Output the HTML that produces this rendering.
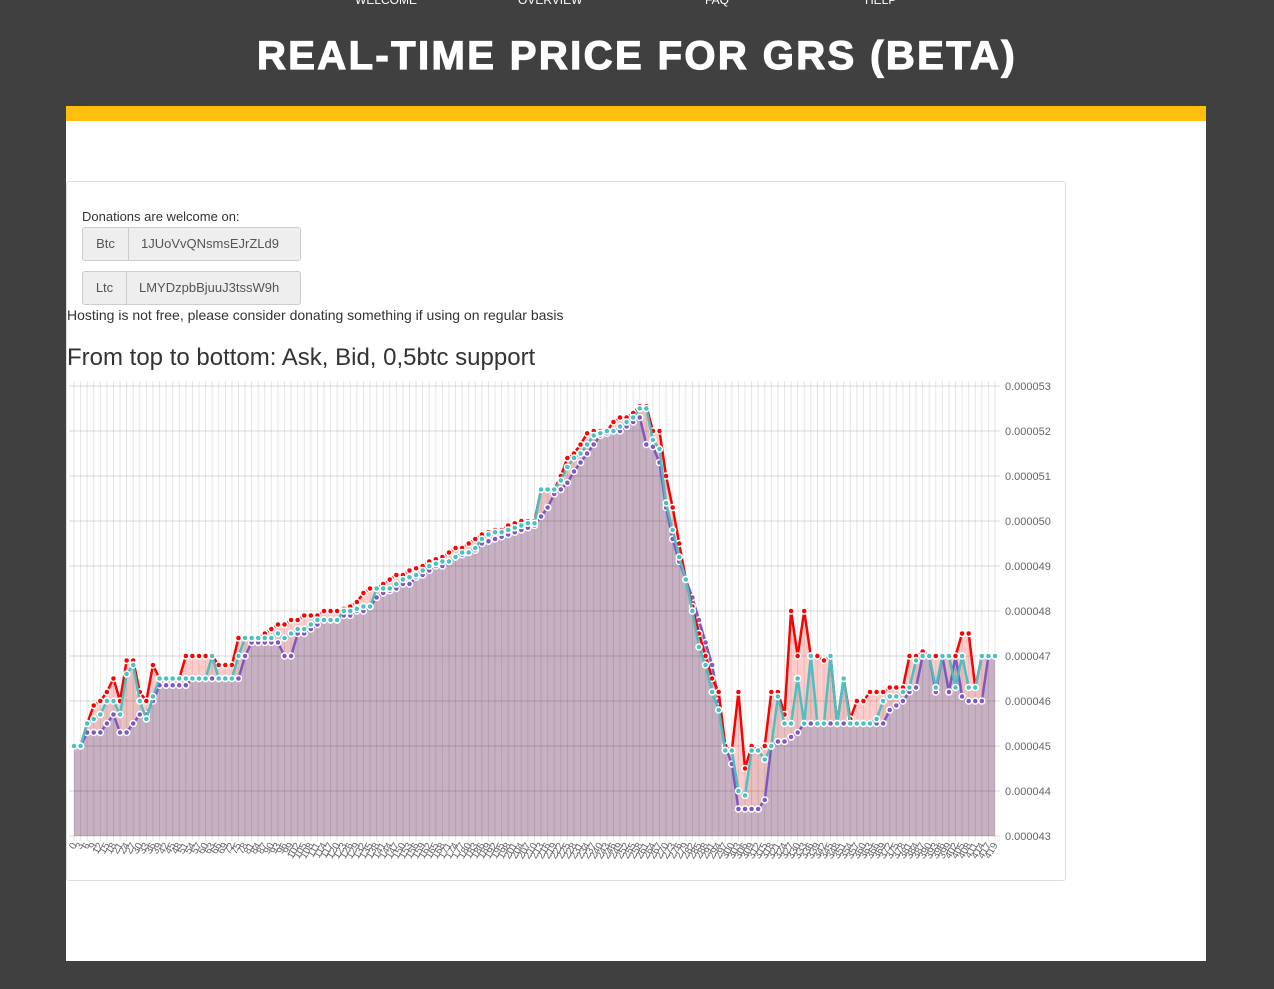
<!DOCTYPE html>
<html><head><meta charset="utf-8">
<style>
body{margin:0;width:1274px;height:989px;background:#404040;font-family:"Liberation Sans",Arial,sans-serif;overflow:hidden;position:relative}
.nav{position:absolute;top:-7px;color:#fff;font-size:12px}
h1{position:absolute;top:34px;left:0;width:1274px;text-align:center;margin:0;color:#fff;font-size:40px;font-weight:900;letter-spacing:2.4px;-webkit-text-stroke:1.2px #fff}
#bar{position:absolute;left:66px;top:106px;width:1140px;height:15px;background:#fdc00f}
#cont{position:absolute;left:66px;top:121px;width:1140px;height:840px;background:#fff}
#panel{position:absolute;left:66px;top:181px;width:998px;height:698px;border:1px solid #ddd;border-radius:3px}
.t{position:absolute;color:#333;font-size:13px}
.ig{position:absolute;left:82px;width:217px;height:32px;border:1px solid #ccc;border-radius:3px;overflow:hidden;display:flex;font-size:13px;color:#555;background:#eee}
.ig .a{width:45px;text-align:center;line-height:32px;border-right:1px solid #ccc}
.ig .i{flex:1;line-height:32px;padding-left:12px;white-space:nowrap;overflow:hidden}
</style></head><body>
<div class="nav" style="left:355px">WELCOME</div>
<div class="nav" style="left:518px">OVERVIEW</div>
<div class="nav" style="left:705px">FAQ</div>
<div class="nav" style="left:865px">HELP</div>
<h1>REAL-TIME PRICE FOR GRS (BETA)</h1>
<div id="bar"></div>
<div id="cont"></div>
<div id="panel"></div>
<div class="t" style="left:82px;top:209px">Donations are welcome on:</div>
<div class="ig" style="top:227px"><div class="a">Btc</div><div class="i">1JUoVvQNsmsEJrZLd9</div></div>
<div class="ig" style="top:271px"><div class="a" style="width:43px">Ltc</div><div class="i">LMYDzpbBjuuJ3tssW9h</div></div>
<div class="t" style="left:67px;top:307px;font-size:14px">Hosting is not free, please consider donating something if using on regular basis</div>
<div class="t" style="left:67px;top:344px;font-size:24px">From top to bottom: Ask, Bid, 0,5btc support</div>
<svg id="ch" width="1274" height="989" style="position:absolute;left:0;top:0"></svg>
<script>
const ask=[45.0,45.0,45.5,45.9,46.0,46.2,46.5,46.0,46.9,46.9,
46.2,46.0,46.8,46.5,46.5,46.5,46.5,47.0,47.0,47.0,
47.0,47.0,46.8,46.8,46.8,47.4,47.4,47.4,47.4,47.5,
47.6,47.7,47.7,47.8,47.8,47.9,47.9,47.9,48.0,48.0,
48.0,48.05,48.1,48.2,48.4,48.5,48.5,48.6,48.7,48.8,
48.8,48.9,48.95,49.0,49.1,49.15,49.2,49.3,49.4,49.4,
49.5,49.6,49.7,49.75,49.8,49.8,49.9,49.95,50.0,50.0,
50.0,50.7,50.7,50.7,51.0,51.4,51.5,51.7,51.95,52.0,
52.0,52.0,52.2,52.3,52.3,52.4,52.55,52.55,52.0,52.0,
51.0,50.3,49.5,48.7,48.1,47.5,47.0,46.5,46.2,45.0,
44.9,46.2,44.5,45.0,44.9,45.0,46.2,46.2,45.7,48.0,
47.0,48.0,47.0,47.0,46.9,47.0,45.5,46.5,45.6,46.0,
46.0,46.2,46.2,46.2,46.3,46.3,46.3,47.0,47.0,47.1,
47.0,47.0,47.0,47.0,47.0,47.5,47.5,46.3,47.0,47.0,
47.0];
const bid=[45.0,45.0,45.5,45.6,45.7,46.0,46.0,45.7,46.6,46.8,
46.0,45.6,46.1,46.5,46.5,46.5,46.5,46.5,46.5,46.5,
46.5,47.0,46.5,46.5,46.5,47.0,47.4,47.4,47.4,47.4,
47.4,47.5,47.4,47.5,47.6,47.6,47.7,47.8,47.8,47.8,
47.8,48.0,48.0,48.05,48.1,48.1,48.5,48.5,48.5,48.6,
48.7,48.75,48.8,48.9,49.0,49.05,49.1,49.1,49.2,49.3,
49.3,49.4,49.6,49.7,49.75,49.75,49.8,49.85,49.9,49.95,
49.95,50.7,50.7,50.7,50.9,51.2,51.4,51.5,51.7,51.9,
51.95,52.0,52.0,52.1,52.2,52.3,52.5,52.5,51.8,51.6,
50.4,49.8,49.2,48.7,48.0,47.2,46.8,46.2,45.8,44.9,
44.9,44.0,43.9,44.9,44.9,44.7,45.0,46.1,45.5,45.5,
46.5,45.5,47.0,45.5,45.5,47.0,45.5,46.5,45.5,45.5,
45.5,45.5,45.6,46.0,46.1,46.1,46.2,46.3,46.9,47.0,
47.0,46.3,47.0,47.0,46.3,47.0,46.3,46.3,47.0,47.0,
47.0];
const support=[45.0,45.0,45.3,45.3,45.3,45.5,45.7,45.3,45.3,45.5,
45.7,45.7,46.0,46.35,46.35,46.35,46.35,46.35,46.5,46.5,
46.5,46.5,46.5,46.5,46.5,46.5,47.0,47.3,47.3,47.3,
47.3,47.3,47.0,47.0,47.5,47.5,47.6,47.7,47.8,47.8,
47.8,47.9,47.9,48.0,48.0,48.1,48.3,48.4,48.45,48.5,
48.6,48.6,48.75,48.8,48.9,49.0,49.0,49.1,49.2,49.25,
49.3,49.35,49.5,49.55,49.6,49.65,49.7,49.75,49.8,49.85,
49.9,50.1,50.3,50.6,50.7,50.85,51.1,51.3,51.5,51.7,
51.9,51.95,52.0,52.0,52.1,52.2,52.3,51.7,51.65,51.3,
50.3,49.6,49.1,48.7,48.3,47.8,47.3,46.8,46.0,45.0,
44.6,43.6,43.6,43.6,43.6,43.8,45.0,45.1,45.1,45.2,
45.3,45.5,45.5,45.5,45.5,45.5,45.5,45.5,45.5,45.5,
45.5,45.5,45.5,45.5,45.8,45.9,46.0,46.2,46.3,47.0,
47.0,46.2,47.0,46.2,47.0,46.1,46.0,46.0,46.0,47.0,
47.0];
const yTicks=[43,44,45,46,47,48,49,50,51,52,53];
const categories=[];for(let i=0;i<ask.length;i++)categories.push(i<ask.length-1?String(i*3):"419");

const svg=document.getElementById('ch'),NS='http://www.w3.org/2000/svg';
const X0=74,X1=995,Y0=836,Y1=386,VMIN=43,VMAX=53;
function xs(i){return X0+(X1-X0)*i/(ask.length-1);}
function ys(v){return Y0-(v-VMIN)/(VMAX-VMIN)*(Y0-Y1);}
function mk(t,a){const e=document.createElementNS(NS,t);for(const k in a)e.setAttribute(k,a[k]);svg.appendChild(e);return e;}
function area(d,fill,name){let p='M'+xs(0)+','+Y0;d.forEach((v,i)=>p+='L'+xs(i)+','+ys(v));p+='L'+xs(d.length-1)+','+Y0+'Z';
const e=mk('path',{d:p,fill:fill});

}
area(ask,'rgba(255,0,0,0.2)','ask-area');
area(bid,'rgba(100,110,110,0.14)','bid-area');
area(support,'#c6b0c2','support-area');
for(let i=0;i<ask.length;i++){const g=mk('line',{x1:xs(i),x2:xs(i),y1:381,y2:841,stroke:'rgba(0,0,0,0.1)','stroke-width':1});

}
yTicks.forEach(v=>{const g=mk('line',{x1:69,x2:1000,y1:ys(v),y2:ys(v),stroke:'rgba(0,0,0,0.15)','stroke-width':1});


const t=mk('text',{x:1005,y:ys(v)+4,'font-size':11,fill:'#666','font-family':'Liberation Sans, sans-serif'});
t.textContent='0.0000'+v;

});
function series(d,col,name){let p='';d.forEach((v,i)=>p+=(i?'L':'M')+xs(i)+','+ys(v));
const l=mk('path',{d:p,fill:'none',stroke:col,'stroke-width':2.5,'stroke-linejoin':'round'});


d.forEach((v,i)=>{const c=mk('circle',{cx:xs(i),cy:ys(v),r:3,fill:col,stroke:'#fff','stroke-width':1.5});

});}
series(support,'#7e57c2','support');
series(ask,'#ff0000','ask');
series(bid,'#4bc0c0','bid');
categories.forEach((c,i)=>{const t=mk('text',{x:xs(i)+3,y:845,'font-size':10,fill:'#666','text-anchor':'end','font-family':'Liberation Sans, sans-serif',transform:'rotate(-60 '+(xs(i)+3)+' 845)'});
t.textContent=c;

});
</script>
</body></html>
